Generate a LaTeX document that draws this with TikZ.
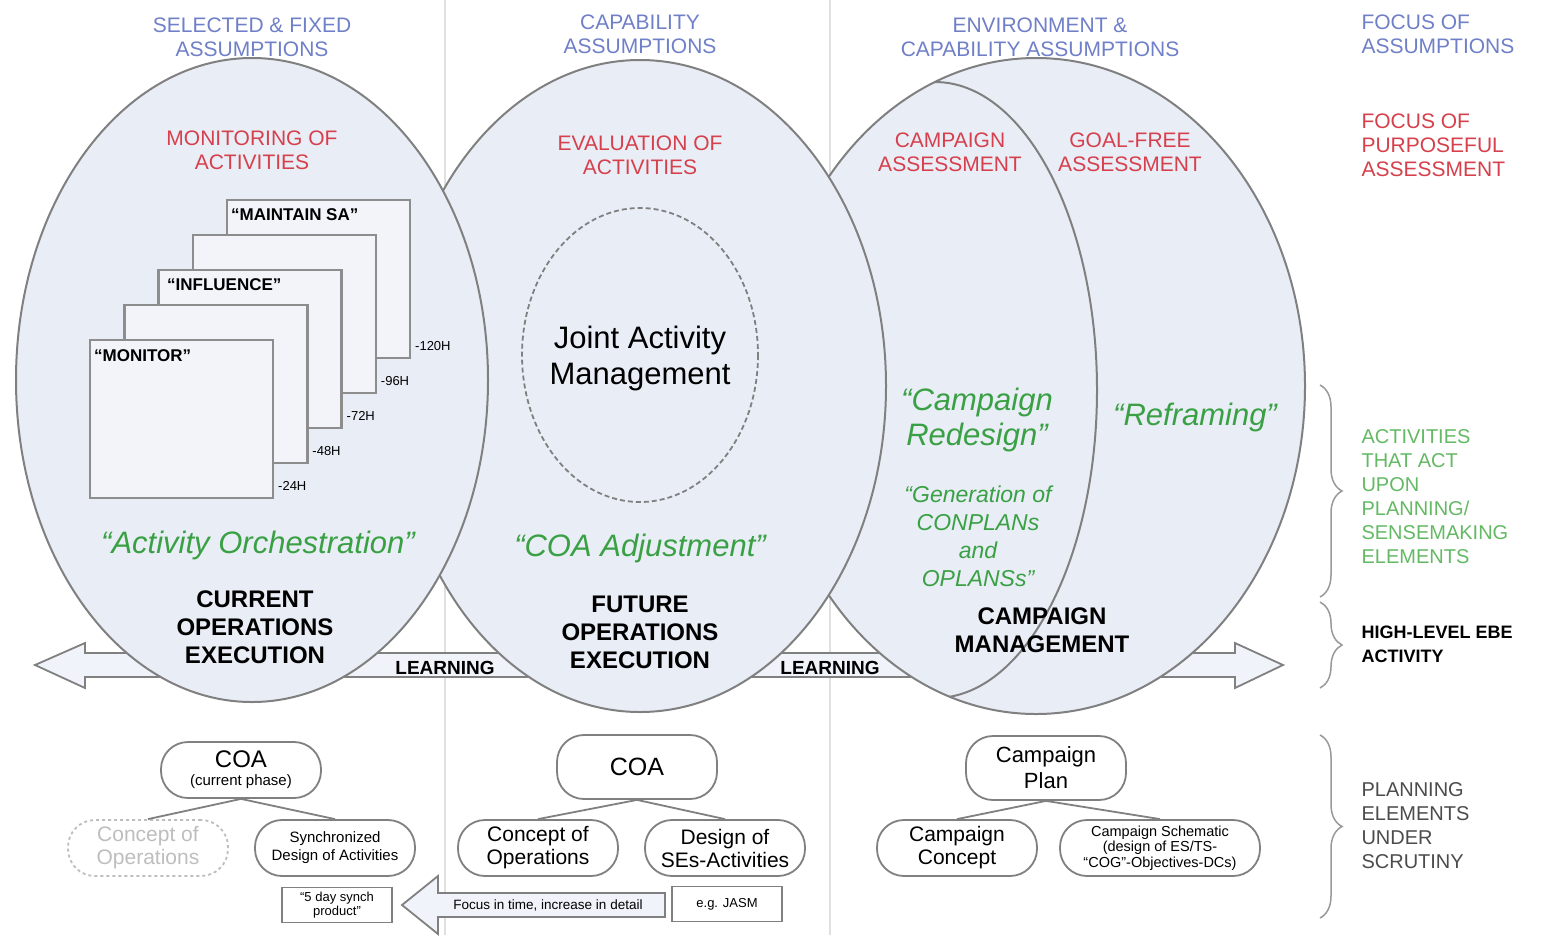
\documentclass[tikz,border=0pt]{standalone}
\usepackage{fontspec}
\setmainfont{Liberation Sans}
\usetikzlibrary{decorations.pathreplacing}
\definecolor{bubblefill}{RGB}{233,237,246}
\definecolor{rimgray}{RGB}{128,128,128}
\definecolor{assumblue}{RGB}{112,128,200}
\definecolor{focusred}{RGB}{214,64,76}
\definecolor{actgreen}{RGB}{58,160,68}
\definecolor{sidegreen}{RGB}{100,185,100}
\definecolor{arrowfill}{RGB}{240,243,249}
\definecolor{ghost}{RGB}{190,190,190}
\newcommand{\fsz}[2]{\fontsize{#1}{#2}\selectfont}
\tikzset{
  bubble/.style={fill=bubblefill, draw=rimgray, line width=2},
  rim/.style={draw=rimgray, line width=2},
  hdr/.style={text=assumblue, align=center, font=\fsz{21}{24}},
  purpose/.style={text=focusred, align=center, font=\fsz{21}{24}},
  act/.style={text=actgreen, align=center, font=\fsz{31}{35}\itshape},
  phase/.style={align=center, font=\fsz{24}{28}\bfseries},
  side/.style={anchor=west, align=left, font=\fsz{20}{24}},
  frame/.style={draw=rimgray!90, line width=2.5, fill=bubblefill!60},
  framelbl/.style={anchor=north west, font=\fsz{17}{20}\bfseries, inner sep=1},
  hour/.style={anchor=west, font=\fsz{13}{15}, inner sep=1},
  plan/.style={draw=rimgray, line width=1.8, fill=white, rounded corners=27,
    minimum width=160, minimum height=56, align=center, inner sep=2},
  note/.style={draw=rimgray, line width=1.8, fill=white, minimum width=110,
    minimum height=35, align=center, font=\fsz{13}{14}, inner sep=1},
  link/.style={draw=rimgray, line width=1.8},
  sidebrace/.style={draw=rimgray!80, line width=1.5, decorate,
    decoration={brace, amplitude=22}}
}
\begin{document}
\begin{tikzpicture}[x=1pt, y=-1pt]
\useasboundingbox (0,0) rectangle (1563,935);
\fill[white] (0,0) rectangle (1563,935);
\draw[black!12, line width=1.5] (445,0) -- (445,935);
\draw[black!12, line width=1.5] (830,0) -- (830,935);

\draw[rimgray, line width=1.8, fill=arrowfill] (35,665) -- (85,643) -- (85,653) -- (1235,653)
  -- (1235,643) -- (1283,665) -- (1235,688) -- (1235,677) -- (85,677) -- (85,688) -- cycle;

\draw[bubble] (1036,386) ellipse [x radius=269, y radius=328];
\begin{scope}
\clip (1036,386) ellipse [x radius=269, y radius=328];
\draw[rim] (935,390) ellipse [x radius=162, y radius=308];
\end{scope}
\draw[bubble] (640,386) ellipse [x radius=246, y radius=326];
\draw[bubble] (252,380) ellipse [x radius=236, y radius=322];
\draw[rimgray, line width=1.8, dash pattern=on 5 off 3] (640,355) ellipse [x radius=118, y radius=147];

\node[hdr] (hdrfixed) at (252,37) {SELECTED \& FIXED\\ASSUMPTIONS};
\node[hdr] (hdrcap) at (640,34) {CAPABILITY\\ASSUMPTIONS};
\node[hdr] (hdrenv) at (1040,37) {ENVIRONMENT \&\\CAPABILITY ASSUMPTIONS};
\node[hdr, anchor=west, align=left] (hdrfocus) at (1358,34) {FOCUS OF\\ASSUMPTIONS};

\node[purpose] (monact) at (252,150) {MONITORING OF\\ACTIVITIES};
\node[purpose] (evalact) at (640,155) {EVALUATION OF\\ACTIVITIES};
\node[purpose] (campassess) at (950,152) {CAMPAIGN\\ASSESSMENT};
\node[purpose] (goalfree) at (1130,152) {GOAL-FREE\\ASSESSMENT};
\node[purpose, anchor=west, align=left] (purposeful) at (1358,145) {FOCUS OF\\PURPOSEFUL\\ASSESSMENT};

\foreach \k/\tag in {4/-120H,3/-96H,2/-72H,1/-48H,0/-24H}{
  \draw[frame] (90+34.25*\k,340-35*\k) rectangle +(183,158);
  \node[hour] (hr\k) at (277+34.25*\k,486-35*\k) {\tag};
}
\node[framelbl] (monitor) at (93,348) {“MONITOR”};
\node[framelbl] (influence) at (166,277) {“INFLUENCE”};
\node[framelbl] (maintain) at (230,207) {“MAINTAIN SA”};

\node[font=\fsz{31}{36}, align=center] (jam) at (640,358) {Joint Activity\\Management};

\node[act] (orch) at (258,545) {“Activity Orchestration”};
\node[act] (coaadj) at (640,548) {“COA Adjustment”};
\node[act] (redesign) at (977,420) {“Campaign\\Redesign”};
\node[act, font=\fsz{23}{28}\itshape] (conplans) at (978,536) {“Generation of\\CONPLANs\\and\\OPLANSs”};
\node[act] (reframe) at (1195,417) {“Reframing”};

\node[phase] (curops) at (255,627) {CURRENT\\OPERATIONS\\EXECUTION};
\node[phase] (futops) at (640,632) {FUTURE\\OPERATIONS\\EXECUTION};
\node[phase] (campmgmt) at (1042,630) {CAMPAIGN\\MANAGEMENT};
\node[font=\fsz{19}{22}\bfseries] (learnA) at (445,668) {LEARNING};
\node[font=\fsz{19}{22}\bfseries] (learnB) at (830,668) {LEARNING};

\node[side, text=sidegreen] (actside) at (1358,497) {ACTIVITIES\\THAT ACT\\UPON\\PLANNING/\\SENSEMAKING\\ELEMENTS};
\node[side, font=\fsz{18}{24}\bfseries] (ebeside) at (1358,644) {HIGH-LEVEL EBE\\ACTIVITY};
\node[side, text=black!70] (planside) at (1358,826) {PLANNING\\ELEMENTS\\UNDER\\SCRUTINY};
\draw[sidebrace] (1320,385) -- (1320,597);
\draw[sidebrace] (1320,602) -- (1320,688);
\draw[sidebrace] (1320,735) -- (1320,918);

\node[plan, font=\fsz{24}{20}] (coacur) at (241,770) {COA\\[-2pt]{\fsz{15}{16}(current phase)}};
\node[plan, draw=ghost, dashed, text=ghost, font=\fsz{21}{23}] (conopsA) at (148,848) {Concept of\\Operations};
\node[plan, font=\fsz{15}{18}] (syncdes) at (335,848) {Synchronized\\Design of Activities};
\node[note] (synch) at (337,905) {“5 day synch\\product”};
\draw[link] (coacur.south) -- (conopsA.north);
\draw[link] (coacur.south) -- (syncdes.north);

\node[plan, font=\fsz{25}{28}, minimum height=64] (coafut) at (637,767) {COA};
\node[plan, font=\fsz{21}{23}] (conopsB) at (538,848) {Concept of\\Operations};
\node[plan, font=\fsz{21}{23}] (sesdes) at (725,848) {Design of\\SEs-Activities};
\node[note] (jasm) at (727,904) {e.g. JASM};
\draw[link] (coafut.south) -- (conopsB.north);
\draw[link] (coafut.south) -- (sesdes.north);

\draw[rimgray, line width=1.8, fill=arrowfill] (402,905) -- (438,876) -- (438,893) -- (665,893)
  -- (665,917) -- (438,917) -- (438,934) -- cycle;
\node[font=\fsz{13.5}{15}] (focustime) at (548,905) {Focus in time, increase in detail};

\node[plan, font=\fsz{22}{26}, minimum height=64] (campplan) at (1046,768) {Campaign\\Plan};
\node[plan, font=\fsz{21}{23}] (campcon) at (957,848) {Campaign\\Concept};
\node[plan, font=\fsz{14.5}{15.5}, minimum width=200] (campsch) at (1160,848) {Campaign Schematic\\(design of ES/TS-\\“COG”-Objectives-DCs)};
\draw[link] (campplan.south) -- (campcon.north);
\draw[link] (campplan.south) -- (campsch.north);
\end{tikzpicture}
\end{document}
